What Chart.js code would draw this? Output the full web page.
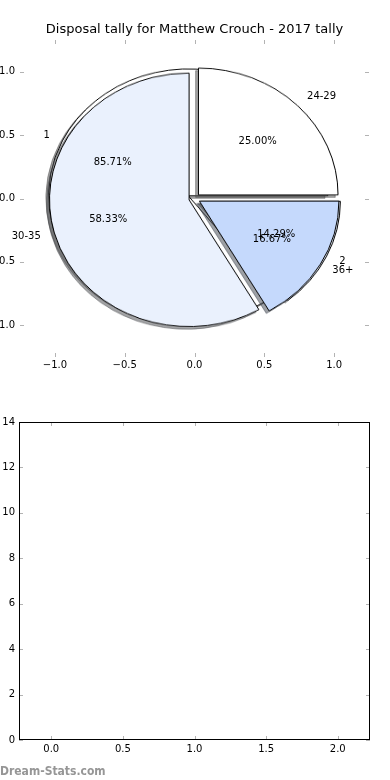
<!DOCTYPE html>
<html><head><meta charset="utf-8">
<script src="https://cdn.jsdelivr.net/npm/chart.js@4.4.1/dist/chart.umd.min.js"></script>
<style>
html,body{margin:0;padding:0;background:#fff;}
#wrap{position:relative;width:390px;height:780px;overflow:hidden;background:#fff;}
#wrap canvas{position:absolute;}
#wm{position:absolute;left:0;top:765px;font:bold 12px 'DejaVu Sans Condensed','DejaVu Sans',sans-serif;line-height:12px;color:#969696;white-space:nowrap;}
</style></head><body>
<div id="wrap">
<canvas id="pieA"></canvas>
<canvas id="pieB"></canvas>
<canvas id="topAx" width="390" height="385" style="left:0;top:0"></canvas>
<canvas id="botAx" width="390" height="390" style="left:0;top:390px"></canvas>
<div id="wm">Dream-Stats.com</div>
</div>
<script>
// ---- data ----
const titleText = 'Disposal tally for Matthew Crouch - 2017 tally';
const pieALabels = ['1', '2'];
const pieAValues = [6, 1];            // 85.71%, 14.29%
const pieBLabels = ['24-29', '30-35', '36+'];
const pieBValues = [3, 7, 2];         // 25.00%, 58.33%, 16.67%
const pieAColors = ['#ffffff', '#eaf1fd'];
const pieBColors = ['#ffffff', '#eaf1fd', '#c5d9fc'];
const pieAExplode = [0.05, 0.05];
const pieBExplode = [0.04, 0.04, 0.04];
const topTicks = [-1, -0.5, 0, 0.5, 1];
const bottomXTicks = [0, 0.5, 1, 1.5, 2];
const bottomYTicks = [0, 2, 4, 6, 8, 10, 12, 14];
const bottomValues = [];

// ---- helpers ----
const FONT = "'DejaVu Sans'";
const tickFont = {family: FONT, size: 10};
const fmt1 = v => (v < 0 ? '\u2212' : '') + Math.abs(v).toFixed(1);
const noGrid = { display: false, drawTicks: false };

function inwardTicks(color, len) {
  return { id: 'inTicks', afterDraw(chart) {
    const {ctx, chartArea: a, scales: {x, y}} = chart;
    ctx.save(); ctx.strokeStyle = color; ctx.lineWidth = 1; ctx.beginPath();
    x.ticks.forEach(t => { const p = Math.round(x.getPixelForValue(t.value)) + 0.5;
      ctx.moveTo(p, a.top); ctx.lineTo(p, a.top + len); ctx.moveTo(p, a.bottom); ctx.lineTo(p, a.bottom - len); });
    y.ticks.forEach(t => { const p = Math.round(y.getPixelForValue(t.value)) + 0.5;
      ctx.moveTo(a.left, p); ctx.lineTo(a.left + len, p); ctx.moveTo(a.right, p); ctx.lineTo(a.right - len, p); });
    ctx.stroke(); ctx.restore();
  }};
}

// a silent right-hand axis that only reserves room (like the matplotlib right spine side)
function rightSpacer(w) {
  return { type: 'linear', position: 'right', display: true, grid: noGrid, border: { display: false },
    ticks: { display: false }, afterFit: s => { s.width = w; } };
}

const pieText = { id: 'pieText', afterDraw(chart) {
  const {ctx, scales: {x, y}} = chart;
  ctx.save(); ctx.font = "10px " + FONT; ctx.fillStyle = '#000'; ctx.textBaseline = 'middle';
  [[pieALabels, pieAValues, pieAExplode], [pieBLabels, pieBValues, pieBExplode]].forEach(([labels, vals, expl]) => {
    const total = vals.reduce((s, v) => s + v, 0);
    let acc = 0;
    vals.forEach((v, i) => {
      const t1 = acc / total * 2 * Math.PI; acc += v; const t2 = acc / total * 2 * Math.PI;
      const tm = (t1 + t2) / 2;
      const cx = expl[i] * Math.cos(tm), cy = expl[i] * Math.sin(tm);
      const lx = cx + 1.1 * Math.cos(tm), ly = cy + 1.1 * Math.sin(tm);
      ctx.textAlign = lx > 0 ? 'left' : 'right';
      ctx.fillText(labels[i], x.getPixelForValue(lx), y.getPixelForValue(ly));
      ctx.textAlign = 'center';
      ctx.fillText((v / total * 100).toFixed(2) + '%',
        x.getPixelForValue(cx + 0.6 * Math.cos(tm)), y.getPixelForValue(cy + 0.6 * Math.sin(tm)));
    });
  });
  ctx.restore();
}};

// ---- top axes (frame for the pies) ----
const topChart = new Chart(document.getElementById('topAx'), {
  type: 'scatter',
  data: { datasets: [] },
  options: {
    responsive: false, animation: false, devicePixelRatio: 1, events: [],
    layout: { padding: { left: 0, right: 1, top: 0, bottom: 0 } },
    plugins: {
      legend: { display: false }, tooltip: { enabled: false },
      title: { display: true, text: titleText, color: '#000',
        font: { family: FONT, size: 13, weight: 'normal' }, padding: { top: 22, bottom: 2.4 } }
    },
    scales: {
      x: { type: 'linear', min: -1.25, max: 1.25, grid: noGrid, border: { display: false },
        afterBuildTicks: s => { s.ticks = topTicks.map(v => ({ value: v })); },
        afterFit: s => { s.height = 28; },
        ticks: { font: tickFont, color: '#000', padding: 2, maxRotation: 0, autoSkip: false, callback: fmt1 } },
      y: { type: 'linear', position: 'left', min: -1.25, max: 1.25, grid: noGrid, border: { display: false },
        afterBuildTicks: s => { s.ticks = topTicks.map(v => ({ value: v })); },
        afterFit: s => { s.width = 20; },
        ticks: { font: tickFont, color: '#000', padding: 5, autoSkip: false, callback: fmt1 } },
      y2: rightSpacer(20)
    }
  },
  plugins: [inwardTicks('#b3b3b3', 4), pieText]
});

// ---- pies (drawn by Chart.js pie charts, aligned to the axes above) ----
const xs = topChart.scales.x, ys = topChart.scales.y;
const x0 = xs.getPixelForValue(0), y0 = ys.getPixelForValue(0);
const R = xs.getPixelForValue(1) - x0;
const sy = (y0 - ys.getPixelForValue(1)) / R;

function shadowOf(c) {
  const n = parseInt(c.slice(1), 16);
  const r = (n >> 16) & 255, g = (n >> 8) & 255, b = n & 255;
  return `rgba(${Math.round(r * 0.3)},${Math.round(g * 0.3)},${Math.round(b * 0.3)},0.5)`;
}

function makePie(id, labels, vals, colors, explode) {
  const S = 2 * Math.ceil(R + 24) + 1;
  const cv = document.getElementById(id);
  cv.width = S; cv.height = S;
  cv.style.left = (x0 - S / 2) + 'px';
  cv.style.top = (y0 - S / 2) + 'px';
  cv.style.transformOrigin = '50% 50%';
  cv.style.transform = `scaleY(${sy})`;
  const rev = a => a.slice().reverse();
  const ex = rev(explode);
  return new Chart(cv, {
    type: 'pie',
    data: { labels: rev(labels), datasets: [{ data: rev(vals), backgroundColor: rev(colors),
      borderColor: '#000', borderWidth: 1, borderJoinStyle: 'miter' }] },
    options: { responsive: false, animation: false, devicePixelRatio: 1, events: [],
      radius: R, rotation: 90, layout: { padding: 0 },
      plugins: { legend: { display: false }, tooltip: { enabled: false } } },
    plugins: [{
      id: 'explodeShadow',
      afterDatasetUpdate(chart, args) {
        args.meta.data.forEach((arc, i) => {
          const m = (arc.startAngle + arc.endAngle) / 2;
          arc.x += Math.cos(m) * ex[i] * R;
          arc.y += Math.sin(m) * ex[i] * R;
        });
      },
      beforeDatasetsDraw(chart) {
        const ctx = chart.ctx;
        ctx.save(); ctx.translate(-0.02 * R, 0.02 * R);
        chart.getDatasetMeta(0).data.forEach(arc => {
          const sc = shadowOf(arc.options.backgroundColor);
          const fake = Object.create(arc);
          fake.options = Object.assign({}, arc.options, { backgroundColor: sc, borderColor: sc });
          fake.draw(ctx);
        });
        ctx.restore();
      }
    }]
  });
}
makePie('pieA', pieALabels, pieAValues, pieAColors, pieAExplode);
makePie('pieB', pieBLabels, pieBValues, pieBColors, pieBExplode);

// ---- bottom (empty) axes ----
const frame = { id: 'frame', afterDraw(chart) {
  const {ctx, chartArea: a} = chart;
  ctx.save(); ctx.strokeStyle = '#000'; ctx.lineWidth = 1;
  const l = Math.round(a.left) + 0.5, t = Math.round(a.top) + 0.5, r = Math.round(a.right) - 0.5, b = Math.round(a.bottom) - 0.5;
  ctx.strokeRect(l, t, r - l, b - t);
  ctx.restore();
}};
new Chart(document.getElementById('botAx'), {
  type: 'scatter',
  data: { datasets: [{ data: bottomValues }] },
  options: {
    responsive: false, animation: false, devicePixelRatio: 1, events: [],
    layout: { padding: { left: 0, right: 0, top: 32, bottom: 0 } },
    plugins: { legend: { display: false }, tooltip: { enabled: false } },
    scales: {
      x: { type: 'linear', min: -0.225, max: 2.225, grid: noGrid, border: { display: false },
        afterBuildTicks: s => { s.ticks = bottomXTicks.map(v => ({ value: v })); },
        afterFit: s => { s.height = 40; },
        ticks: { font: tickFont, color: '#000', padding: 3, maxRotation: 0, autoSkip: false, callback: v => v.toFixed(1) } },
      y: { type: 'linear', position: 'left', min: 0, max: 14, grid: noGrid, border: { display: false },
        afterBuildTicks: s => { s.ticks = bottomYTicks.map(v => ({ value: v })); },
        afterFit: s => { s.width = 19; },
        ticks: { font: tickFont, color: '#000', padding: 4, autoSkip: false, callback: v => String(v) } },
      y2: rightSpacer(20)
    }
  },
  plugins: [inwardTicks('#b3b3b3', 4), frame]
});
</script>
</body></html>
